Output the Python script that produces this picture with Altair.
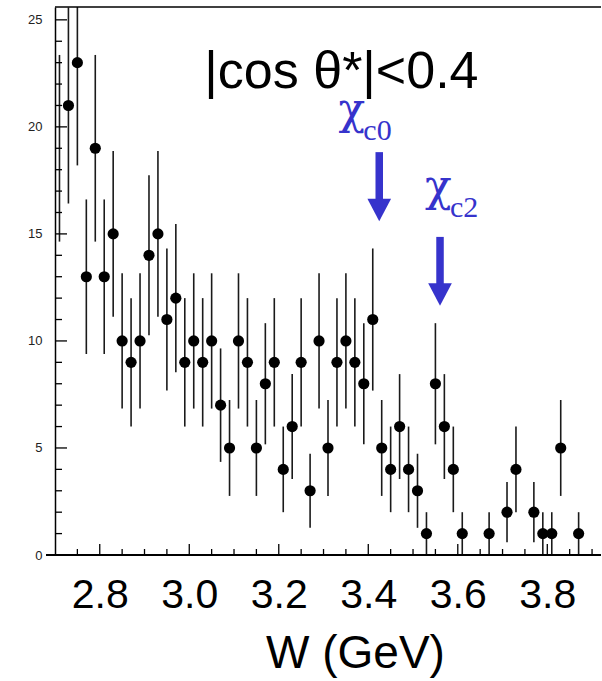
import altair as alt
import pandas as pd

# ---- data ----
W = [2.71, 2.73, 2.75, 2.77, 2.79, 2.81, 2.83, 2.85, 2.87, 2.89,
     2.91, 2.93, 2.95, 2.97, 2.99, 3.01, 3.03, 3.05, 3.07, 3.09,
     3.11, 3.13, 3.15, 3.17, 3.19, 3.21, 3.23, 3.25, 3.27, 3.29,
     3.31, 3.33, 3.35, 3.37, 3.39, 3.41, 3.43, 3.45, 3.47, 3.49,
     3.51, 3.53, 3.55, 3.57, 3.59, 3.61, 3.67, 3.71, 3.73, 3.77,
     3.79, 3.81, 3.83, 3.87]
counts = [19, 21, 23, 13, 19, 13, 15, 10, 9, 10,
          14, 15, 11, 12, 9, 10, 9, 10, 7, 5,
          10, 9, 5, 8, 9, 4, 6, 9, 3, 10,
          5, 9, 10, 9, 8, 11, 5, 4, 6, 4,
          3, 1, 8, 6, 4, 1, 1, 2, 4, 2,
          1, 1, 5, 1]
err = [4.36, 4.58, 4.80, 3.61, 4.36, 3.61, 3.87, 3.16, 3.00, 3.16,
       3.74, 3.87, 3.32, 3.46, 3.00, 3.16, 3.00, 3.16, 2.65, 2.24,
       3.16, 3.00, 2.24, 2.83, 3.00, 2.00, 2.45, 3.00, 1.73, 3.16,
       2.24, 3.00, 3.16, 3.00, 2.83, 3.32, 2.24, 2.00, 2.45, 2.00,
       1.73, 1.00, 2.83, 2.45, 2.00, 1.00, 1.00, 1.41, 2.00, 1.41,
       1.00, 1.00, 2.24, 1.00]

x_major = [2.8, 3.0, 3.2, 3.4, 3.6, 3.8]
x_minor = [2.75, 2.85, 2.9, 2.95, 3.05, 3.1, 3.15, 3.25, 3.3, 3.35,
           3.45, 3.5, 3.55, 3.65, 3.7, 3.75, 3.85, 3.9]
y_major = [5, 10, 15, 20, 25]
y_minor = [1, 2, 3, 4, 6, 7, 8, 9, 11, 12, 13, 14, 16, 17, 18, 19,
           21, 22, 23, 24]
y_labels = [0, 5, 10, 15, 20, 25]

cut_text = ["|cos θ*|<0.4"]
cut_x = [3.340]
cut_y = [21.82]

chi_text = ["χ", "χ"]
chi_x = [3.3335, 3.5268]
chi_y = [20.14, 16.54]
sub_text = ["c0", "c2"]
sub_x = [3.389, 3.5827]
sub_y = [19.39, 15.79]

arrow_x = [3.4245, 3.5603]
arrow_top = [18.82, 14.86]
arrow_base = [16.50, 12.60]
arrow_head = [16.12, 12.17]

XDOM = [2.7, 3.92]
YDOM = [0, 25.6]
W_PX, H_PX = 546, 548
BLUE = "#3633CC"

x_axis = alt.Axis(values=x_major, format=".1f", labelFontSize=41, labelColor="black",
                  labelBaseline="alphabetic", labelPadding=52, ticks=False, domain=False,
                  grid=False, labelFlush=False, title="W (GeV)", titleFontSize=46,
                  titleFontWeight="normal", titleColor="black", titleX=300, titleY=112,
                  titleBaseline="alphabetic", titleAlign="center")
y_axis = alt.Axis(values=y_labels, labelFontSize=13, labelColor="#222222", labelPadding=13,
                  ticks=False, domain=True, domainColor="black", domainWidth=1.5, grid=False,
                  labelFlush=False, title=None)


def X(field):
    return alt.X(field, type="quantitative",
                 scale=alt.Scale(domain=XDOM, nice=False, zero=False), axis=x_axis)


def Y(field):
    return alt.Y(field, type="quantitative",
                 scale=alt.Scale(domain=YDOM, nice=False, zero=False), axis=y_axis)


df = pd.DataFrame({"W": W, "n": counts, "e": err})
df["lo"] = df["n"] - df["e"]
df["hi"] = df["n"] + df["e"]

bars = alt.Chart(df).mark_rule(color="#1a1a1a", strokeWidth=1.6, clip=True).encode(
    x=X("W"), y=Y("lo"), y2="hi")

points = alt.Chart(df).transform_filter("datum.W > 2.72").mark_point(
    filled=True, shape="circle", size=125, color="black", opacity=1, clip=True).encode(
    x=X("W"), y=Y("n"))

frame_top = alt.Chart(pd.DataFrame({"a": [0]})).mark_rule(color="black", strokeWidth=1.5).encode(
    x=alt.value(0), x2=alt.value(W_PX), y=alt.value(0))
frame_bottom = alt.Chart(pd.DataFrame({"a": [0]})).mark_rule(color="black", strokeWidth=2).encode(
    x=alt.value(-9), x2=alt.value(W_PX), y=alt.value(H_PX))

xt_major = alt.Chart(pd.DataFrame({"W": x_major})).mark_rule(color="black", strokeWidth=1.3).encode(
    x=X("W"), y=alt.value(H_PX), y2=alt.value(H_PX - 11))
xt_minor = alt.Chart(pd.DataFrame({"W": x_minor})).mark_rule(color="black", strokeWidth=1.3).encode(
    x=X("W"), y=alt.value(H_PX), y2=alt.value(H_PX - 6))
yt_major = alt.Chart(pd.DataFrame({"n": y_major})).mark_rule(color="black", strokeWidth=1.3).encode(
    y=Y("n"), x=alt.value(0), x2=alt.value(12))
yt_minor = alt.Chart(pd.DataFrame({"n": y_minor})).mark_rule(color="black", strokeWidth=1.3).encode(
    y=Y("n"), x=alt.value(0), x2=alt.value(7))

cut = alt.Chart(pd.DataFrame({"W": cut_x, "n": cut_y, "t": cut_text})).mark_text(
    font="Liberation Sans", fontSize=52, color="black", align="center", baseline="alphabetic").encode(
    x=X("W"), y=Y("n"), text="t:N")

chi = alt.Chart(pd.DataFrame({"W": chi_x, "n": chi_y, "t": chi_text})).mark_text(
    font="DejaVu Serif", fontSize=44, color=BLUE, align="left", baseline="alphabetic").encode(
    x=X("W"), y=Y("n"), text="t:N")
sub = alt.Chart(pd.DataFrame({"W": sub_x, "n": sub_y, "t": sub_text})).mark_text(
    font="Liberation Serif", fontSize=30, color=BLUE, align="left", baseline="alphabetic").encode(
    x=X("W"), y=Y("n"), text="t:N")

adf = pd.DataFrame({"W": arrow_x, "top": arrow_top, "base": arrow_base, "head": arrow_head})
shaft = alt.Chart(adf).mark_rule(color=BLUE, strokeWidth=7.5).encode(
    x=X("W"), y=Y("top"), y2="base")
head = alt.Chart(adf).mark_point(
    shape="M-1,-0.95L1,-0.95L0,0.95Z", filled=True, size=560, color=BLUE, opacity=1,
    strokeWidth=0).encode(x=X("W"), y=Y("head"))

chart = alt.layer(
    bars, points, frame_top, frame_bottom, xt_major, xt_minor, yt_major, yt_minor,
    cut, chi, sub, shaft, head
).properties(
    width=W_PX, height=H_PX,
    autosize=alt.AutoSizeParams(type="none"),
    padding={"left": 55, "top": 7, "right": 1, "bottom": 126},
    background="white",
).configure_view(stroke=None).configure_axis(
    labelFont="Liberation Sans", titleFont="Liberation Sans")

chart.save("out.html", embed_options={"renderer": "svg", "actions": False})
